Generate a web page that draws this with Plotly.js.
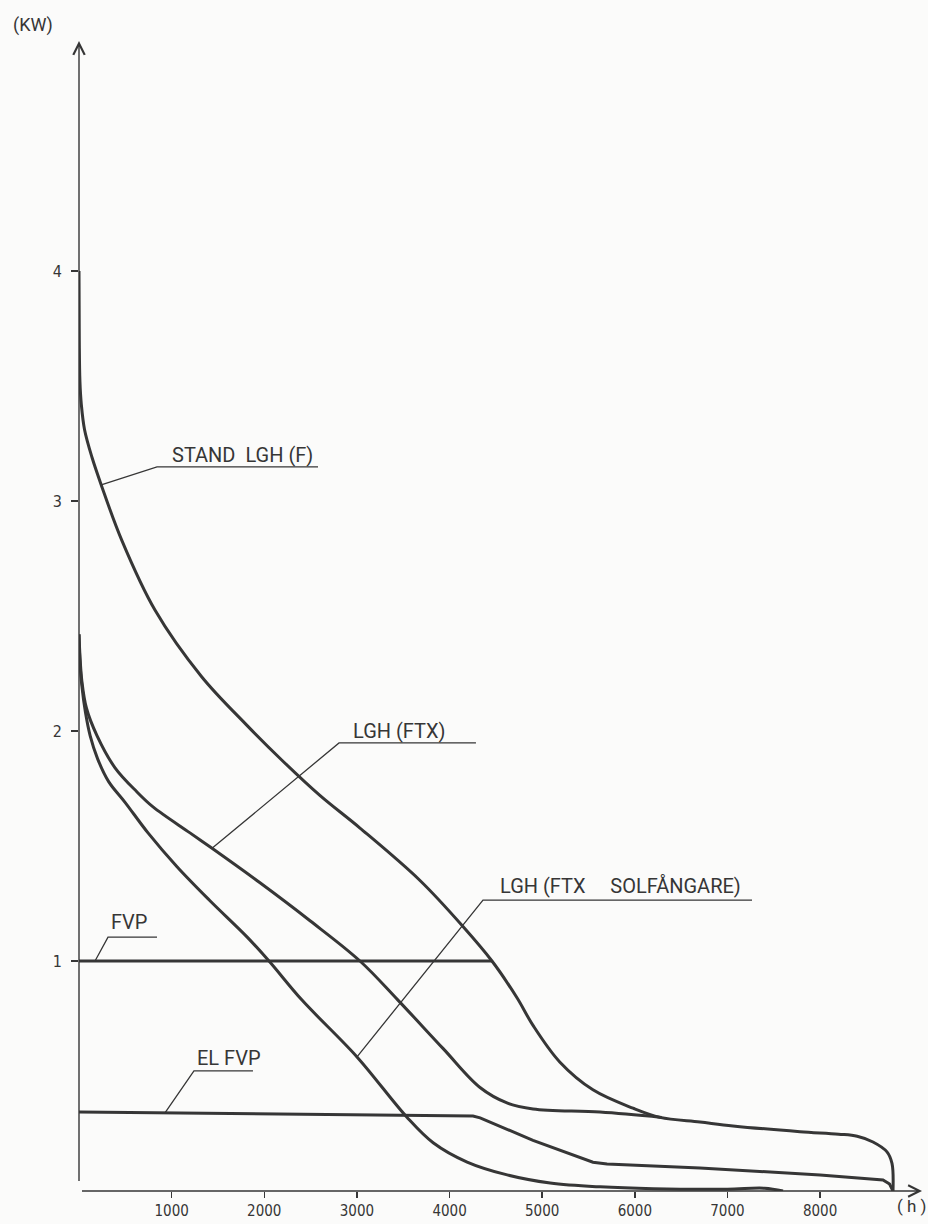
<!DOCTYPE html>
<html>
<head>
<meta charset="utf-8">
<script src="https://cdn.plot.ly/plotly-3.0.1.min.js"></script>
<style>
  html, body { margin: 0; padding: 0; background: #fbfbfa; }
  #chart { width: 928px; height: 1224px; }
</style>
</head>
<body>
<div id="chart"></div>
<script>
// Load duration curves: heating power (kW) versus hours of the year (h)

// STAND LGH (F)
const standHours = [0, 3, 10, 25, 60, 140, 240, 461, 820, 1324, 1800, 2188, 2600, 3033, 3681, 4145, 4458, 4728, 4901, 5192, 5548, 5980, 6272, 6703, 7060, 7783, 8200, 8400, 8571, 8722, 8776, 8787];
const standKw    = [4.0, 3.7, 3.52, 3.42, 3.31, 3.19, 3.07, 2.83, 2.526, 2.236, 2.03, 1.874, 1.72, 1.578, 1.35, 1.15, 1.0, 0.84, 0.72, 0.56, 0.44, 0.36, 0.32, 0.30, 0.283, 0.258, 0.247, 0.238, 0.213, 0.17, 0.12, 0.0];

// LGH (FTX)
const ftxHours = [0, 10, 30, 80, 194, 389, 626, 799, 1198, 1436, 1954, 2494, 3033, 3443, 3929, 4329, 4620, 4901, 5624, 6290];
const ftxKw    = [2.42, 2.33, 2.22, 2.1, 1.98, 1.84, 1.735, 1.67, 1.557, 1.49, 1.34, 1.175, 1.0, 0.83, 0.62, 0.45, 0.383, 0.357, 0.343, 0.32];

// LGH (FTX  SOLFÅNGARE)
const solHours = [0, 10, 30, 70, 120, 200, 320, 497, 745, 1058, 1414, 1813, 2051, 2407, 3001, 3542, 3823, 4190, 4622, 5086, 5626, 6200, 7000, 7400, 7600];
const solKw    = [2.42, 2.3, 2.2, 2.08, 1.98, 1.88, 1.78, 1.69, 1.557, 1.41, 1.262, 1.105, 1.0, 0.83, 0.583, 0.32, 0.21, 0.126, 0.07, 0.035, 0.018, 0.01, 0.008, 0.012, 0.0];

// FVP
const fvpHours = [0, 4458];
const fvpKw    = [1.0, 1.0];

// EL FVP
const elHours = [0, 2000, 3500, 4253, 4330, 4901, 5548, 5700, 6703, 8000, 8679, 8750, 8787];
const elKw    = [0.343, 0.336, 0.33, 0.326, 0.318, 0.22, 0.125, 0.117, 0.10, 0.07, 0.048, 0.03, 0.0];

// Axis ticks
const xTickVals = [1000, 2000, 3000, 4000, 5000, 6000, 7000, 8000];
const xTickText = ['1000', '2000', '3000', '4000', '5000', '6000', '7000', '8000'];
const yTickVals = [1, 2, 3, 4];
const yTickText = ['1', '2', '3', '4'];

// Curve labels
const labelTexts = ['STAND\u00a0\u00a0LGH (F)', 'LGH (FTX)', 'LGH (FTX\u00a0\u00a0\u00a0\u00a0\u00a0SOLFÅNGARE)', 'FVP', 'EL FVP'];

const INK = '#363636';
const LABEL_FONT = 'Roboto, "Liberation Sans", sans-serif';
const NUM_FONT = '"Liberation Sans Narrow", "DejaVu Sans Condensed", Roboto, sans-serif';

function interp(xs, ys, x) {
  for (let i = 1; i < xs.length; i++) {
    if (x <= xs[i]) {
      const t = (x - xs[i - 1]) / (xs[i] - xs[i - 1]);
      return ys[i - 1] + t * (ys[i] - ys[i - 1]);
    }
  }
  return ys[ys.length - 1];
}

const X_MAX = 9100, Y_MAX = 5.0;

function curve(xs, ys, shape) {
  return {
    x: xs, y: ys, type: 'scatter', mode: 'lines',
    line: { color: INK, width: 3, shape: shape, smoothing: 1.0 },
    hoverinfo: 'skip', showlegend: false, cliponaxis: false
  };
}

const traces = [
  curve(standHours, standKw, 'spline'),
  curve(ftxHours, ftxKw, 'spline'),
  curve(solHours, solKw, 'spline'),
  curve(fvpHours, fvpKw, 'linear'),
  curve(elHours, elKw, 'linear')
];

// leader targets on the curves
const leaderTargets = [
  [standHours[6], standKw[6]],
  [ftxHours[9], ftxKw[9]],
  [solHours[14], solKw[14]],
  [173, interp(fvpHours, fvpKw, 173)],
  [928, interp(elHours, elKw, 928)]
];
// underline spans [x0, x1, y] and text centres [x, y]
const underlines = [
  [842, 2580, 3.148],
  [2807, 4285, 1.948],
  [4361, 7265, 1.265],
  [313, 842, 1.104],
  [1241, 1878, 0.522]
];
const textCentres = [
  [1760, 3.20],
  [3465, 2.0],
  [5840, 1.325],
  [540, 1.168],
  [1619, 0.58]
];

const shapes = underlines.map((u, i) => ({
  type: 'path', xref: 'x', yref: 'y',
  path: `M${leaderTargets[i][0]},${leaderTargets[i][1]} L${u[0]},${u[2]} L${u[1]},${u[2]}`,
  line: { color: INK, width: 1.3 }
}));

const annotations = labelTexts.map((t, i) => ({
  x: textCentres[i][0], y: textCentres[i][1], xref: 'x', yref: 'y',
  text: t, showarrow: false, xanchor: 'center', yanchor: 'middle',
  font: { family: LABEL_FONT, size: 20, color: INK }
}));

// axis arrows
annotations.push({
  x: X_MAX, y: 0, xref: 'x', yref: 'y', ax: 0, ay: 0, axref: 'x', ayref: 'y',
  text: ' ', showarrow: true, arrowhead: 5, arrowsize: 1.6, arrowwidth: 1.4, arrowcolor: INK, standoff: 0
});
annotations.push({
  x: 0, y: Y_MAX, xref: 'x', yref: 'y', ax: 0, ay: 0, axref: 'x', ayref: 'y',
  text: ' ', showarrow: true, arrowhead: 5, arrowsize: 1.6, arrowwidth: 1.4, arrowcolor: INK, standoff: 0
});
// axis unit labels
annotations.push({
  x: -0.055, y: 1.014, xref: 'paper', yref: 'paper', text: '(KW)', showarrow: false,
  xanchor: 'center', yanchor: 'middle', font: { family: LABEL_FONT, size: 18, color: INK }
});
annotations.push({
  x: 0.988, y: -0.013, xref: 'paper', yref: 'paper', text: '(\u00a0h\u00a0)', showarrow: false,
  xanchor: 'center', yanchor: 'middle', font: { family: LABEL_FONT, size: 17, color: INK }
});

const layout = {
  width: 928, height: 1224,
  margin: { l: 79, r: 6, t: 41, b: 33 },
  paper_bgcolor: '#fbfbfa', plot_bgcolor: 'rgba(0,0,0,0)',
  showlegend: false,
  xaxis: {
    range: [0, X_MAX], showgrid: false, zeroline: false, showline: false,
    tickmode: 'array', tickvals: xTickVals, ticktext: xTickText,
    ticks: 'outside', ticklen: 6, tickwidth: 1.4, tickcolor: INK,
    tickfont: { family: NUM_FONT, size: 15, color: INK }, fixedrange: true
  },
  xaxis2: {
    range: [0, X_MAX], overlaying: 'x', anchor: 'y', showgrid: false, zeroline: false, showline: false,
    tickmode: 'array', tickvals: xTickVals, showticklabels: false,
    ticks: 'inside', ticklen: 5, tickwidth: 1.4, tickcolor: INK, fixedrange: true
  },
  yaxis: {
    range: [0, Y_MAX], showgrid: false, zeroline: false, showline: false,
    tickmode: 'array', tickvals: yTickVals, ticktext: yTickText,
    ticks: 'outside', ticklen: 7, tickwidth: 1.4, tickcolor: INK, ticklabelstandoff: 6,
    tickfont: { family: NUM_FONT, size: 16, color: INK }, fixedrange: true
  },
  shapes: shapes,
  annotations: annotations
};

Plotly.newPlot('chart', traces, layout, { staticPlot: true, displayModeBar: false });
</script>
</body>
</html>
